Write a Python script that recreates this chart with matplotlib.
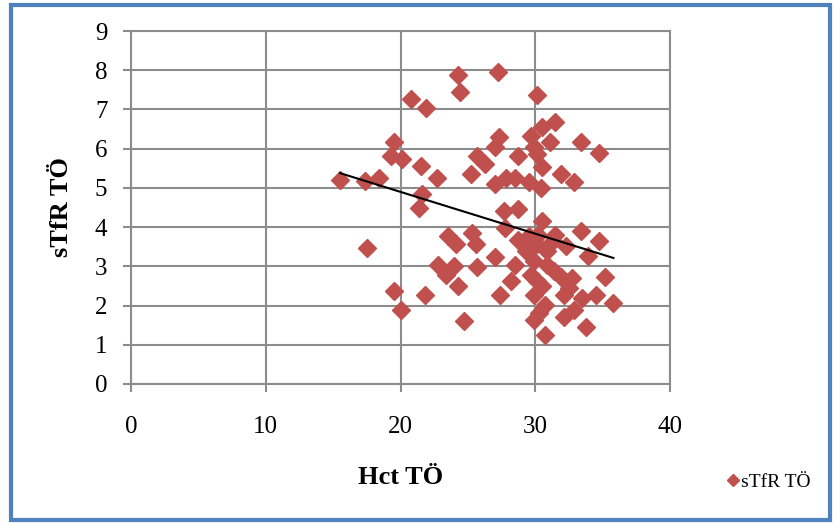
import numpy as np
import matplotlib
matplotlib.use("Agg")
from matplotlib import pyplot as plt
from matplotlib.lines import Line2D
from matplotlib.patches import Rectangle

plt.rcParams['font.family'] = ['Liberation Serif', 'DejaVu Serif']

# Hct vs sTfR measurements
hct = [15.5, 17.4, 18.4, 17.5, 19.5, 19.3, 20.1, 19.5, 20.05, 20.8,
       21.9, 21.5, 21.6, 21.4, 22.7, 21.8, 24.3, 24.4, 25.2, 25.7,
       26.3, 27.0, 27.3, 27.2, 27.0, 27.8, 28.5, 28.7, 29.5, 30.1,
       29.7, 30.5, 31.5, 31.1, 30.1, 30.5, 30.4, 31.9, 32.9, 33.4,
       34.7, 29.9, 27.7, 28.7, 27.75, 30.5, 31.5, 33.4, 34.7, 33.9,
       32.3, 23.5, 24.1, 25.3, 25.6, 22.8, 23.4, 24.0, 24.3, 24.7,
       25.7, 27.0, 27.4, 28.2, 28.5, 28.7, 29.5, 29.3, 29.9, 29.7,
       30.1, 29.9, 30.5, 30.7, 29.9, 30.3, 30.7, 30.9, 31.4, 31.9,
       32.7, 32.1, 32.5, 32.1, 32.9, 33.5, 34.5, 33.8, 35.2, 35.8,
       31.3, 30.1, 30.9, 30.2]
stfr = [5.20, 5.18, 5.26, 3.47, 6.16, 5.82, 5.74, 2.36, 1.89, 7.27,
        7.03, 5.56, 4.84, 4.50, 5.26, 2.26, 7.87, 7.44, 5.35, 5.82,
        5.60, 6.03, 6.31, 7.96, 5.09, 5.26, 5.26, 5.82, 5.14, 7.36,
        6.33, 6.55, 6.67, 6.16, 5.86, 5.52, 5.00, 5.35, 5.14, 6.16,
        5.90, 6.03, 4.41, 4.45, 3.98, 4.15, 3.81, 3.90, 3.64, 3.26,
        3.51, 3.77, 3.56, 3.85, 3.56, 3.04, 2.79, 3.00, 2.49, 1.61,
        2.98, 3.23, 2.27, 2.62, 3.04, 3.68, 3.77, 3.38, 3.13, 2.79,
        2.62, 2.27, 2.49, 2.02, 1.63, 1.80, 1.25, 3.04, 2.87, 2.74,
        2.70, 2.27, 2.44, 1.72, 1.89, 2.19, 2.27, 1.46, 2.72, 2.06,
        3.64, 3.56, 3.38, 3.81]

# linear trend line
slope, intercept = -0.1066, 7.03
x_rng = np.array([min(hct), max(hct)])

fig = plt.figure(figsize=(8.34, 5.25), dpi=100)
ax = fig.add_axes([131 / 834, 1 - 384 / 525, 539 / 834, 353 / 525])

red = '#C0504D'
ax.plot(hct, stfr, linestyle='none', marker='D', ms=9.5, color=red,
        markeredgecolor=red, zorder=3)
ax.plot(x_rng, slope * x_rng + intercept, color='black', lw=1.5, zorder=4)

ax.set_xlim(0, 40)
ax.set_ylim(0, 9)
ax.set_xticks(range(0, 41, 10))
ax.set_yticks(range(0, 10))
ax.grid(True, color='#8c8c8c', lw=1.5)
ax.set_axisbelow(True)
for s in ax.spines.values():
    s.set_color('#8c8c8c')
    s.set_linewidth(1.5)
ax.tick_params(axis='both', labelsize=18, color='#8c8c8c', length=6,
               width=1.5, direction='out')
ax.tick_params(axis='x', pad=17)
ax.tick_params(axis='y', pad=11)

ax.set_xlabel('Hct TÖ', fontsize=19, fontweight='bold', labelpad=20)
ax.set_ylabel('sTfR TÖ', fontsize=19, fontweight='bold', labelpad=16)

handle = Line2D([], [], linestyle='none', marker='D', ms=6, color=red)
fig.legend([handle], ['sTfR TÖ'], loc='center', bbox_to_anchor=(768 / 834, 1 - 482 / 525),
           frameon=False, fontsize=14, handletextpad=0.0, handlelength=0.8)

# outer frame
fig.patches.append(Rectangle((11 / 834, 5 / 525), 819 / 834, 515 / 525,
                             transform=fig.transFigure, fill=False,
                             edgecolor='#4F81BD', lw=3))

fig.savefig('out.png', dpi=100)
